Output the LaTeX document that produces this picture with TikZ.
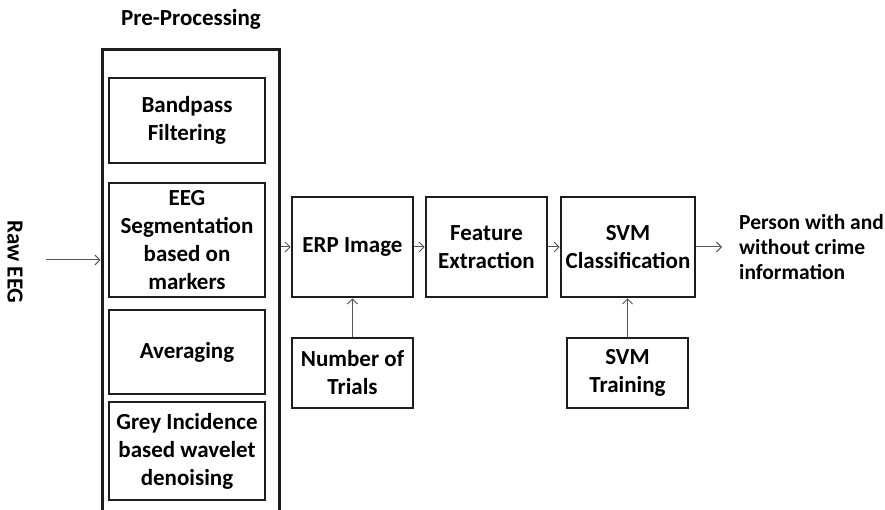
\documentclass[tikz,border=0pt]{standalone}
\usepackage{fontspec}
\setmainfont{Carlito}
\usepackage{tikz}
\usetikzlibrary{arrows.meta}
\definecolor{boxline}{RGB}{30,30,30}
\definecolor{arrowline}{RGB}{85,85,85}

\begin{document}
\begin{tikzpicture}[x=1pt,y=-1pt,
  font=\fontsize{23}{28}\selectfont\bfseries,
  stage/.style={draw=boxline,line width=2.6pt,align=center,inner sep=0pt},
  prestage/.style={stage,line width=2.3pt,minimum width=156pt},
  link/.style={draw=arrowline,line width=1pt,-{Straight Barb[length=5pt,width=10pt]}}]
\useasboundingbox (0,0) rectangle (885,510);
\clip (0,0) rectangle (885,510);

% pre-processing column (open at the bottom)
\node (title) at (191,19) {Pre-Processing};
\node [draw=boxline,line width=3pt,minimum width=177pt,minimum height=520pt,inner sep=0pt] (prebox) at (190.5,310) {};
\node [prestage,minimum height=85pt] (bandpass) at (187,120.5) {Bandpass\\Filtering};
\node [prestage,minimum height=114pt] (segment) at (187,240) {EEG\\Segmentation\\based on\\markers};
\node [prestage,minimum height=84pt] (averaging) at (187,352) {Averaging};
\node [prestage,minimum height=98pt] (denoise) at (187,451) {Grey Incidence\\based wavelet\\denoising};

% input
\node [rotate=-90] (rawlabel) at (15,262) {Raw EEG};
\coordinate (rawstart) at (46,260);
\draw [link] (rawstart) -- (rawstart -| prebox.west);

% main chain
\node [stage,minimum width=121pt,minimum height=100pt] (erp) at (352.5,247) {ERP Image};
\node [stage,minimum width=121pt,minimum height=100pt] (feature) at (486.5,247) {Feature\\Extraction};
\node [stage,minimum width=134pt,minimum height=100pt] (svmclass) at (628,247) {SVM\\Classification};
\node [stage,minimum width=121pt,minimum height=70pt] (trials) at (352.5,373) {Number of\\Trials};
\node [stage,minimum width=121pt,minimum height=70pt] (svmtrain) at (627.5,373) {SVM\\Training};

\draw [link] (prebox.east |- erp.west) -- (erp.west);
\draw [link] (erp) -- (feature);
\draw [link] (feature) -- (svmclass);
\draw [link] (trials) -- (erp);
\draw [link] (svmtrain) -- (svmtrain |- svmclass.south);

% output
\coordinate (outtip) at (722,247);
\draw [link] (svmclass.east) -- (outtip);
\node [anchor=west,align=left,inner sep=0pt,font=\fontsize{21.5}{25}\selectfont\bfseries] (outlabel) at (739,247) {Person with and\\without crime\\information};
\end{tikzpicture}
\end{document}
